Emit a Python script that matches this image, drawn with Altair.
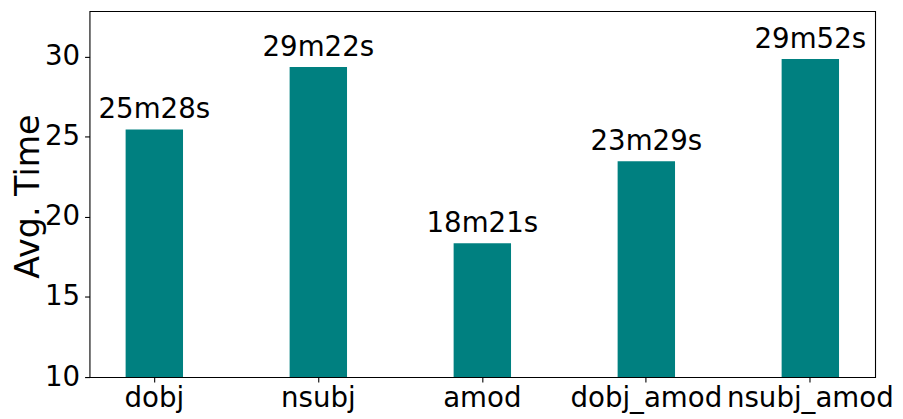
import altair as alt
import pandas as pd

categories = ["dobj", "nsubj", "amod", "dobj_amod", "nsubj_amod"]
avg_minutes = [25 + 28/60, 29 + 22/60, 18 + 21/60, 23 + 29/60, 29 + 52/60]
labels = ["25m28s", "29m22s", "18m21s", "23m29s", "29m52s"]
y_ticks = [10, 15, 20, 25, 30]
y_min = 10
y_max = 32.85

df = pd.DataFrame({"cat": categories, "val": avg_minutes, "label": labels, "base": [y_min] * len(categories)})

FONT = "DejaVu Sans"
W, H = 790, 368

x = alt.X("cat:N", sort=categories, title=None,
          scale=alt.Scale(paddingInner=0.65, paddingOuter=0.22),
          axis=alt.Axis(labelAngle=0, labelFontSize=27.8, labelFont=FONT, labelColor="black",
                        tickSize=5, tickColor="black", tickWidth=1.1, labelPadding=3,
                        domain=False, grid=False))
y = alt.Y("val:Q", title="Avg. Time",
          scale=alt.Scale(domain=[y_min, y_max], nice=False, zero=False),
          axis=alt.Axis(values=y_ticks, labelFontSize=27.8, labelFont=FONT, labelColor="black",
                        tickSize=5, tickColor="black", tickWidth=1.1, labelPadding=5,
                        domain=False, grid=False,
                        titleFontSize=33.5, titleFont=FONT, titleFontWeight="normal", titleColor="black",
                        titleAngle=270, titleX=-51, titleY=H / 2 + 2, titleBaseline="alphabetic",
                        titleAlign="center"))

bars = alt.Chart(df).mark_bar(color="#008080", clip=True).encode(x=x, y=y, y2="base:Q")
text = alt.Chart(df).mark_text(font=FONT, fontSize=27.8, color="black", baseline="alphabetic", dy=-11).encode(
    x=alt.X("cat:N", sort=categories), y="val:Q", text="label:N")

chart = alt.layer(bars, text).properties(
    width=W, height=H,
    autosize=alt.AutoSizeParams(type="none"),
    padding={"left": 82, "top": 2, "right": 20, "bottom": 40},
).configure(background="white", view=alt.ViewConfig(stroke="black", strokeWidth=1.1))

chart.save("out.html", embed_options={"renderer": "svg", "actions": False})
